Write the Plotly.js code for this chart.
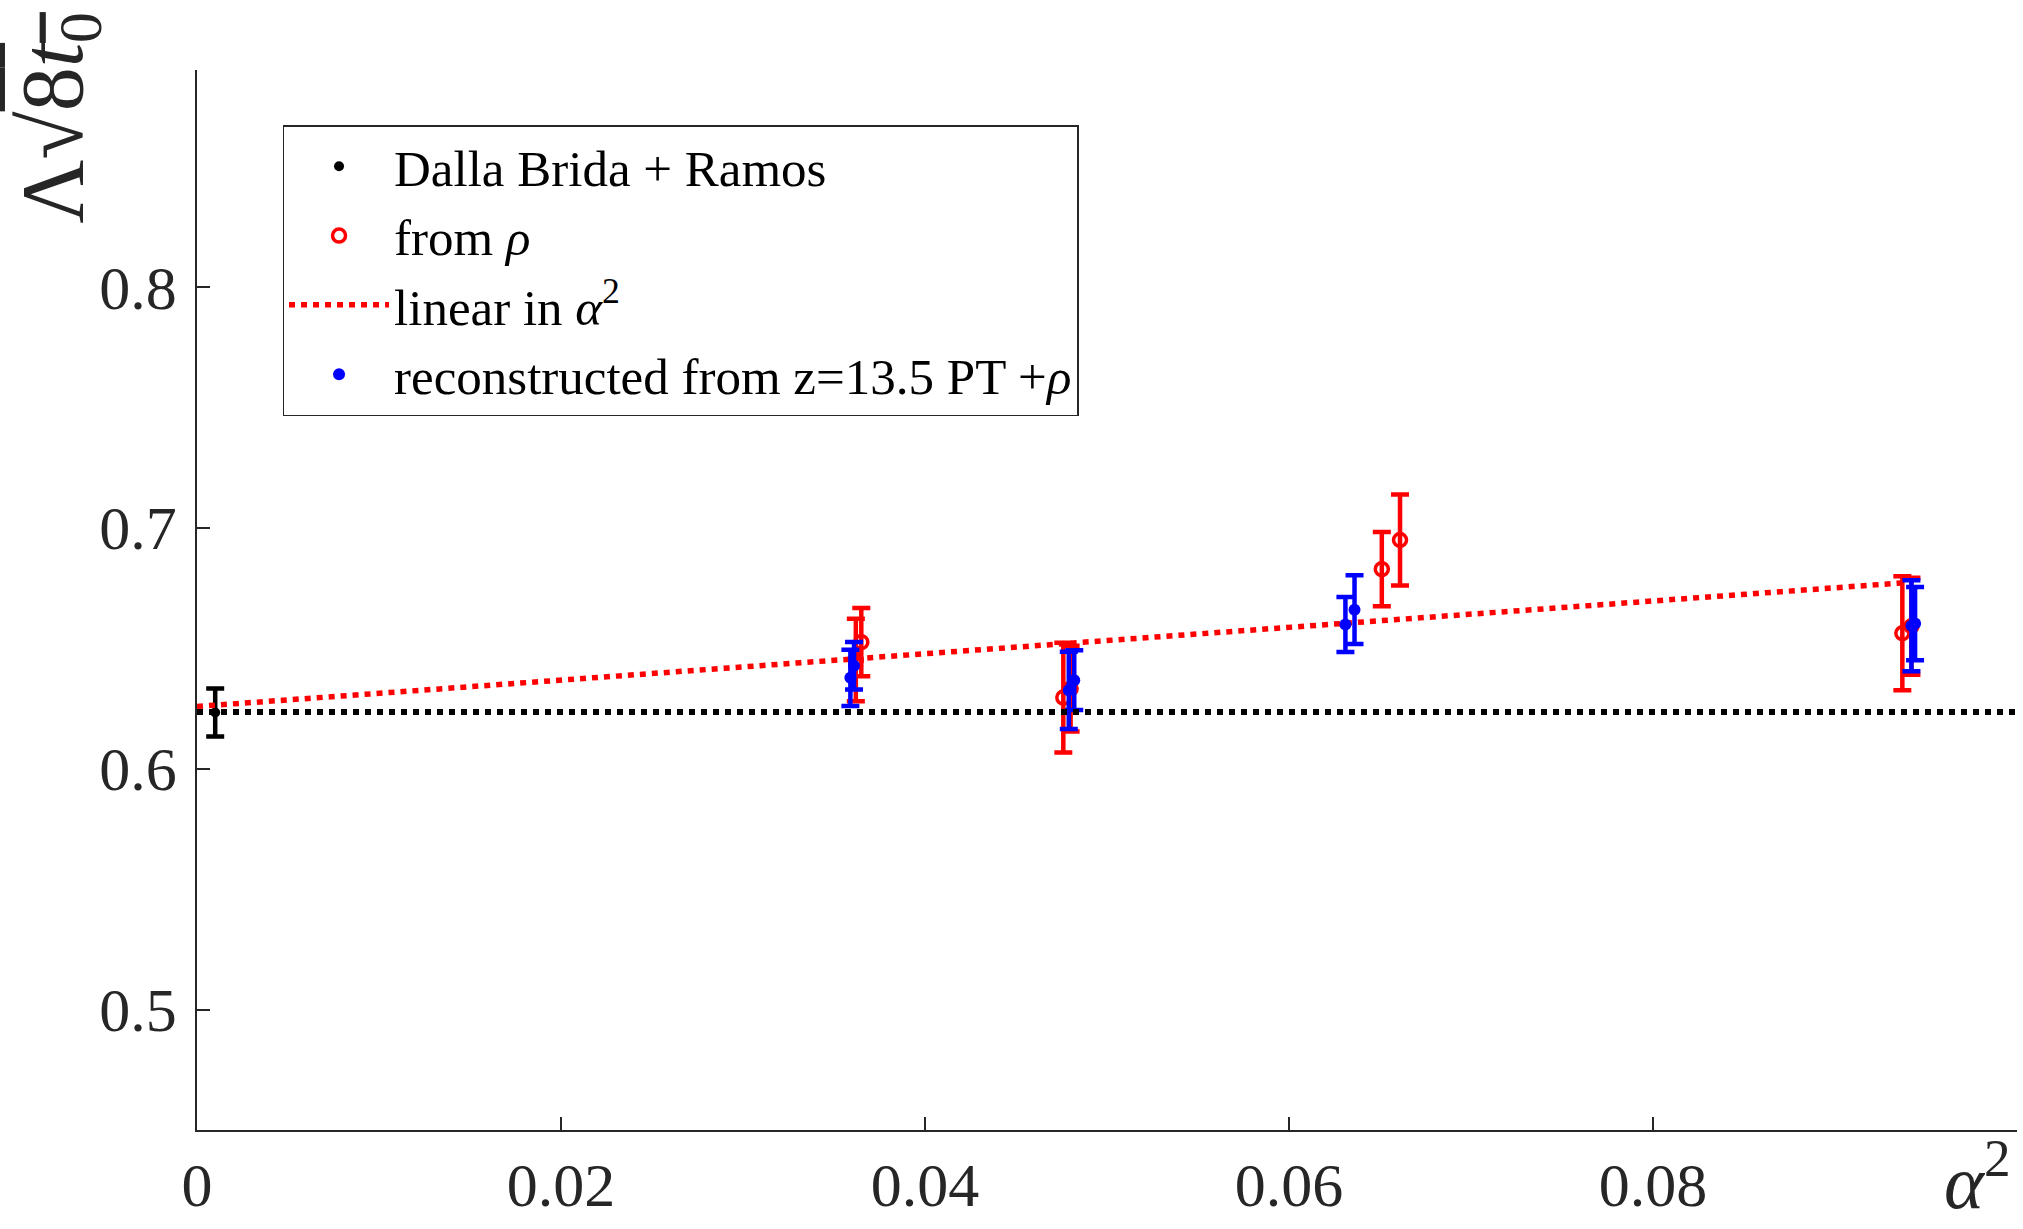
<!DOCTYPE html>
<html>
<head>
<meta charset="utf-8">
<script src="https://cdn.plot.ly/plotly-3.0.1.min.js"></script>
<style>html,body{margin:0;padding:0;background:#fff;}</style>
</head>
<body>
<div id="chart" style="width:2023px;height:1229px;"></div>
<script>
// Reference (Dalla Brida + Ramos)
const refX = [0.001];
const refY = [0.6233];
const refErr = [0.010];

// from rho
const rhoX = [0.0365, 0.0362, 0.0476, 0.0480, 0.0651, 0.0661, 0.0937, 0.0942];
const rhoY = [0.6525, 0.6451, 0.6295, 0.6332, 0.6828, 0.6949, 0.6562, 0.6591];
const rhoErr = [0.0142, 0.0171, 0.0228, 0.0178, 0.0154, 0.0189, 0.0237, 0.0201];

// linear fit in alpha^2
const fitX = [0, 0.0937];
const fitY = [0.6258, 0.6771];

// reconstructed from z=13.5 PT + rho
const recX = [0.0361, 0.0359, 0.0479, 0.0482, 0.0631, 0.0636, 0.0942, 0.0944];
const recY = [0.6427, 0.6377, 0.6325, 0.6367, 0.6598, 0.6660, 0.6593, 0.6602];
const recErr = [0.0099, 0.0117, 0.0160, 0.0124, 0.0114, 0.0143, 0.0189, 0.0152];

// horizontal reference level
const refLineX = [0, 0.1];
const refLineY = [0.6235, 0.6235];

const xTicks = [0, 0.02, 0.04, 0.06, 0.08];
const xTickText = ['0', '0.02', '0.04', '0.06', '0.08'];
const yTicks = [0.5, 0.6, 0.7, 0.8];
const yTickText = ['0.5', '0.6', '0.7', '0.8'];

const serif = 'Liberation Serif, Times New Roman, serif';
const axisCol = '#262626';

const traces = [
  {
    x: refX, y: refY, type: 'scatter', mode: 'markers',
    name: 'Dalla Brida + Ramos',
    marker: {color: '#000000', size: 10, symbol: 'circle'},
    error_y: {type: 'data', array: refErr, visible: true, color: '#000000', thickness: 4.5, width: 9}
  },
  {
    x: rhoX, y: rhoY, type: 'scatter', mode: 'markers',
    name: 'from <i>ρ</i>',
    marker: {color: '#ff0000', size: 13, symbol: 'circle-open', line: {width: 3.5, color: '#ff0000'}},
    error_y: {type: 'data', array: rhoErr, visible: true, color: '#ff0000', thickness: 4.5, width: 9}
  },
  {
    x: fitX, y: fitY, type: 'scatter', mode: 'lines',
    name: 'linear in <i>α</i><sup>2</sup>',
    line: {color: '#ff0000', width: 5.5, dash: '6px,6px'}
  },
  {
    x: recX, y: recY, type: 'scatter', mode: 'markers',
    name: 'reconstructed from z=13.5 PT +<i>ρ</i>',
    marker: {color: '#0000ff', size: 12, symbol: 'circle'},
    error_y: {type: 'data', array: recErr, visible: true, color: '#0000ff', thickness: 4.5, width: 9}
  },
  {
    x: refLineX, y: refLineY, type: 'scatter', mode: 'lines',
    showlegend: false, hoverinfo: 'skip',
    line: {color: '#000000', width: 6, dash: '6px,6px'}
  }
];

const layout = {
  width: 2023, height: 1229,
  margin: {l: 197, r: 6, t: 70, b: 99, pad: 0},
  paper_bgcolor: '#ffffff', plot_bgcolor: '#ffffff',
  font: {family: serif, color: axisCol},
  showlegend: true,
  legend: {
    x: 0.047, y: 0.948, xanchor: 'left', yanchor: 'top',
    bgcolor: '#ffffff', bordercolor: axisCol, borderwidth: 1.5,
    font: {family: serif, size: 51, color: '#000000'},
    itemwidth: 100, tracegroupgap: 0
  },
  xaxis: {
    range: [0, 0.1], showgrid: false, zeroline: false,
    showline: true, linecolor: axisCol, linewidth: 1.5,
    ticks: 'inside', ticklen: 13, tickwidth: 1.5, tickcolor: axisCol,
    tickvals: xTicks, ticktext: xTickText,
    tickfont: {family: serif, size: 62, color: axisCol},
    ticklabelstandoff: 0
  },
  yaxis: {
    range: [0.45, 0.89], showgrid: false, zeroline: false,
    showline: true, linecolor: axisCol, linewidth: 1.5,
    ticks: 'inside', ticklen: 13, tickwidth: 1.5, tickcolor: axisCol,
    tickvals: yTicks, ticktext: yTickText,
    tickfont: {family: serif, size: 62, color: axisCol},
    ticklabelstandoff: 6
  },
  annotations: [
    {
      xref: 'paper', yref: 'paper', x: -0.0762, y: 1.056,
      xanchor: 'center', yanchor: 'top', textangle: -90, showarrow: false,
      text: 'Λ√<span style="text-decoration:overline">8<i>t</i><sub>0</sub></span>',
      font: {family: serif, size: 88, color: axisCol}
    },
    {
      xref: 'paper', yref: 'paper', x: 0.9978, y: -0.0906,
      xanchor: 'right', yanchor: 'bottom', showarrow: false,
      text: '<i>α</i><sup>2</sup>',
      font: {family: serif, size: 76, color: axisCol}
    }
  ]
};

Plotly.newPlot('chart', traces, layout, {displayModeBar: false, responsive: false});
</script>
</body>
</html>
